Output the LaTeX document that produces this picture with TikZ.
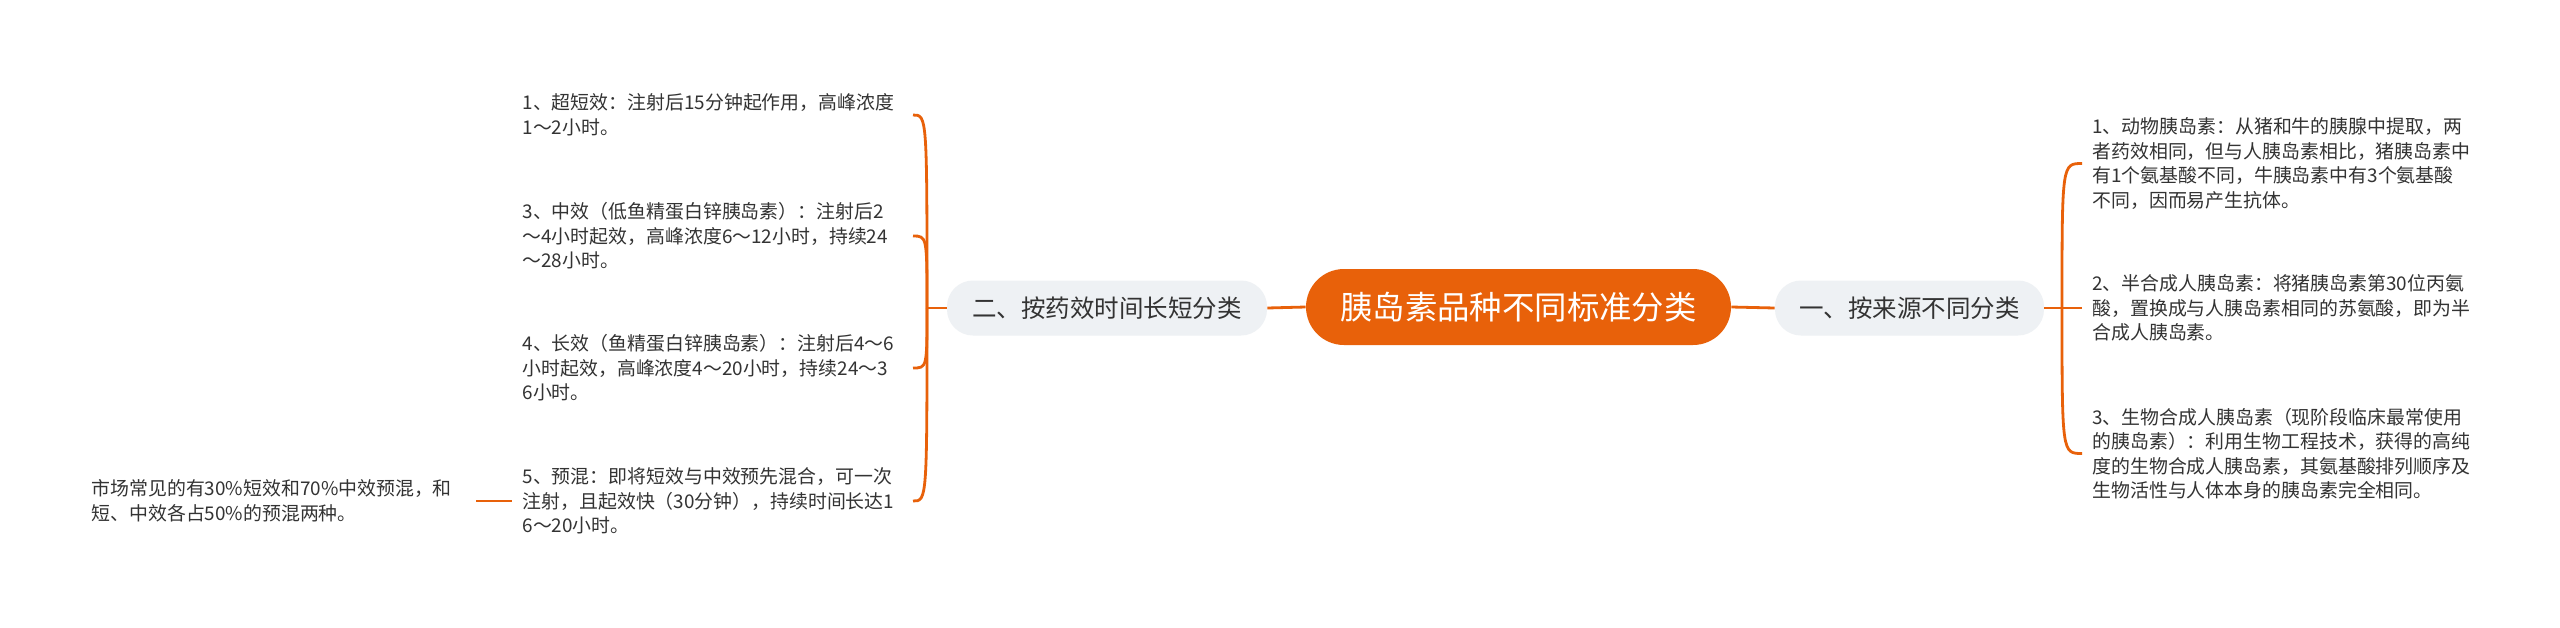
\documentclass[tikz,border=0pt]{standalone}
\usepackage{fontspec}
\newfontfamily\cjk{Noto Sans CJK SC}
\definecolor{brand}{HTML}{E8610A}
\definecolor{pale}{HTML}{EEF1F4}
\definecolor{ink}{HTML}{333333}
\begin{document}
\begin{tikzpicture}[x=0.5pt,y=-0.5pt,
 conn/.style={draw=brand, line width=1.4pt},
 rootbox/.style={fill=brand, text=white, rounded corners=19pt, minimum width=212.5pt, minimum height=38pt, font=\cjk\fontsize{16.2pt}{18pt}\selectfont, inner sep=0pt},
 branchbox/.style={fill=pale, text=ink, rounded corners=13pt, minimum height=27.5pt, font=\cjk\fontsize{12.25pt}{14pt}\selectfont, inner sep=0pt},
 leaf/.style={text=ink, align=left, text width=190pt, inner xsep=5pt, inner ysep=0pt, font=\cjk\fontsize{9.45pt}{12.25pt}\selectfont}
]
\useasboundingbox (0,0) rectangle (2560,627);
\fill[white] (0,0) rectangle (2560,627);

\node[rootbox] (C) at (1518.5,307) {胰岛素品种不同标准分类};
\node[branchbox, minimum width=160pt] (L) at (1107,308) {二、按药效时间长短分类};
\node[branchbox, minimum width=134.5pt] (R) at (1909.5,308) {一、按来源不同分类};
\coordinate (JL) at (927,308);
\coordinate (JR) at (2062,308);

\node[leaf, anchor=west] (R1) at (2082,163.5) {1、动物胰岛素：从猪和牛的胰腺中提取，两\\者药效相同，但与人胰岛素相比，猪胰岛素中\\有1个氨基酸不同，牛胰岛素中有3个氨基酸\\不同，因而易产生抗体。};
\node[leaf, anchor=west] (R2) at (2082,308) {2、半合成人胰岛素：将猪胰岛素第30位丙氨\\酸，置换成与人胰岛素相同的苏氨酸，即为半\\合成人胰岛素。};
\node[leaf, anchor=west] (R3) at (2082,453.5) {3、生物合成人胰岛素（现阶段临床最常使用\\的胰岛素）：利用生物工程技术，获得的高纯\\度的生物合成人胰岛素，其氨基酸排列顺序及\\生物活性与人体本身的胰岛素完全相同。};

\node[leaf, anchor=east] (L1) at (913,115) {1、超短效：注射后15分钟起作用，高峰浓度\\1～2小时。};
\node[leaf, anchor=east] (L3) at (913,236) {3、中效（低鱼精蛋白锌胰岛素）：注射后2\\～4小时起效，高峰浓度6～12小时，持续24\\～28小时。};
\node[leaf, anchor=east] (L4) at (913,368) {4、长效（鱼精蛋白锌胰岛素）：注射后4～6\\小时起效，高峰浓度4～20小时，持续24～3\\6小时。};
\node[leaf, anchor=east] (L5) at (913,501) {5、预混：即将短效与中效预先混合，可一次\\注射，且起效快（30分钟），持续时间长达1\\6～20小时。};
\node[leaf, anchor=east, text width=186pt, inner xsep=6pt] (F) at (476,501) {市场常见的有30\%短效和70\%中效预混，和\\短、中效各占50\%的预混两种。};

\draw[conn] (C.west) -- (L.east);
\draw[conn] (C.east) -- (R.west);
\draw[conn] (L.west) -- (JL);
\draw[conn] (R.east) -- (JR);
\foreach \n in {R1,R3} \draw[conn] (JR) .. controls (JR |- \n) and (JR |- \n) .. (\n.west);
\draw[conn] (JR) -- (R2.west);
\foreach \n in {L1,L3,L4,L5} \draw[conn] (JL) .. controls (JL |- \n) and (JL |- \n) .. (\n.east);
\draw[conn] (F.east) -- (L5.west);
\end{tikzpicture}
\end{document}
